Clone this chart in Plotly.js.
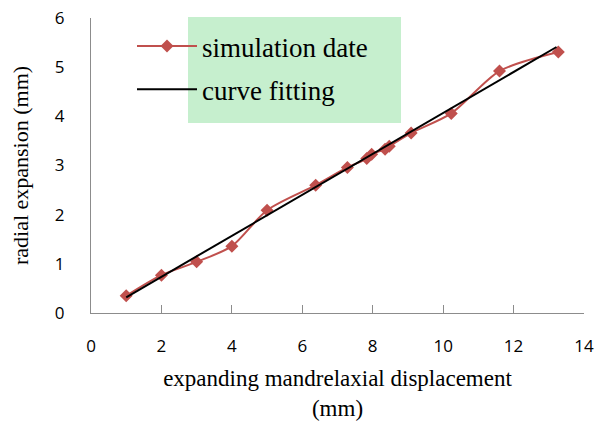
<!DOCTYPE html>
<html>
<head>
<meta charset="utf-8">
<script src="https://cdn.plot.ly/plotly-3.0.1.min.js"></script>
<style>html,body{margin:0;padding:0;background:#fff;}#chart{width:595px;height:421px;}</style>
</head>
<body>
<div id="chart"></div>
<script>
// Data
var simX = [1.0, 2.0, 3.0, 4.0, 5.0, 6.38, 7.28, 7.83, 7.97, 8.35, 8.47, 9.09, 10.23, 11.6, 13.27];
var simY = [0.35, 0.77, 1.04, 1.36, 2.09, 2.60, 2.96, 3.14, 3.23, 3.33, 3.39, 3.66, 4.06, 4.92, 5.31];
var fitX = [1.0, 13.22];
var fitY = [0.32, 5.41];
var xTicks = [0, 2, 4, 6, 8, 10, 12, 14];
var yTicks = [0, 1, 2, 3, 4, 5, 6];
var seriesNames = ['simulation date', 'curve fitting'];

var traces = [
  {
    x: simX, y: simY, name: seriesNames[0], type: 'scatter', mode: 'lines+markers',
    legendgroup: 'g1',
    line: {color: '#C0504D', width: 2, shape: 'spline', smoothing: 0.8},
    marker: {symbol: 'diamond', size: 10, color: '#C0504D'}
  },
  {
    x: fitX, y: fitY, name: seriesNames[1], type: 'scatter', mode: 'lines',
    legendgroup: 'g2',
    line: {color: '#000000', width: 2}
  }
];

var layout = {
  width: 595, height: 421,
  margin: {l: 91, r: 11, t: 18, b: 108},
  paper_bgcolor: '#ffffff', plot_bgcolor: '#ffffff',
  showlegend: true,
  legend: {
    x: (132 - 91) / 493, y: (313 - 22) / 295, xanchor: 'left', yanchor: 'top',
    bgcolor: 'rgba(0,0,0,0)',
    font: {family: 'Liberation Serif, Times New Roman, serif', size: 27, color: '#000'},
    tracegroupgap: 5, itemwidth: 60
  },
  shapes: [{
    type: 'rect', xref: 'paper', yref: 'paper', layer: 'below',
    x0: (188 - 91) / 493, x1: (401 - 91) / 493,
    y0: (313 - 123) / 295, y1: (313 - 17) / 295,
    fillcolor: '#C6EFCE', line: {width: 0}
  }],
  xaxis: {
    range: [0, 14], tickvals: xTicks, ticktext: xTicks.map(String),
    showgrid: false, zeroline: false,
    showline: true, linecolor: '#8c8c8c', linewidth: 1,
    ticks: 'inside', ticklen: 8, tickcolor: '#8c8c8c', tickwidth: 1,
    ticklabelstandoff: 18,
    tickfont: {family: 'Open Sans, Liberation Sans, sans-serif', size: 17, color: '#000'},
    title: {
      text: 'expanding mandrelaxial displacement<br>(mm)',
      font: {family: 'Liberation Serif, Times New Roman, serif', size: 23, color: '#000'},
      standoff: 14
    }
  },
  yaxis: {
    range: [0, 6], tickvals: yTicks, ticktext: yTicks.map(String),
    showgrid: false, zeroline: false,
    showline: true, linecolor: '#8c8c8c', linewidth: 1,
    ticks: '', ticklabelstandoff: 22,
    tickfont: {family: 'Open Sans, Liberation Sans, sans-serif', size: 17, color: '#000'},
    title: {
      text: 'radial expansion (mm)',
      font: {family: 'Liberation Serif, Times New Roman, serif', size: 22, color: '#000'},
      standoff: 20
    }
  }
};

Plotly.newPlot('chart', traces, layout, {displayModeBar: false, staticPlot: true});
</script>
</body>
</html>
